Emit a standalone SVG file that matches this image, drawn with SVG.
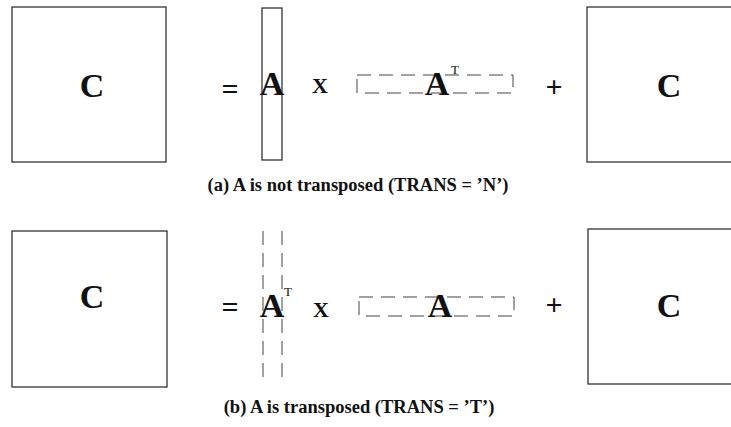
<svg xmlns="http://www.w3.org/2000/svg" width="731" height="427" viewBox="0 0 731 427">
<style>
.box{fill:none;stroke:#222;stroke-width:1.2}
.dash{fill:none;stroke:#444;stroke-width:1;stroke-dasharray:14 8}
.big{font-family:"Liberation Serif",serif;font-weight:bold;font-size:34px;fill:#111;text-anchor:middle}
.mid{font-family:"Liberation Serif",serif;font-weight:bold;font-size:22px;fill:#111;text-anchor:middle}
.op{font-family:"Liberation Serif",serif;font-weight:bold;font-size:30px;fill:#111;text-anchor:middle}
.sup{font-family:"Liberation Serif",serif;font-weight:normal;font-size:13px;fill:#111}
.cap{font-family:"Liberation Serif",serif;font-weight:bold;font-size:18.5px;fill:#111;text-anchor:middle}
</style>
<rect width="731" height="427" fill="#fff"/>
<g id="row-a">
  <g id="a-C-left"><rect class="box" x="12" y="7" width="154" height="155"/><text class="big" x="92" y="97">C</text></g>
  <g id="a-eq"><text class="op" x="230" y="99">=</text></g>
  <g id="a-A"><rect class="box" x="262" y="8" width="20" height="152"/><text class="big" x="272" y="95">A</text></g>
  <g id="a-x"><text class="mid" x="320" y="93">X</text></g>
  <g id="a-AT"><rect class="dash" x="357" y="75" width="156" height="18"/><text class="big" x="437" y="95">A</text><text class="sup" x="451" y="74">T</text></g>
  <g id="a-plus"><text class="op" x="554" y="97">+</text></g>
  <g id="a-C-right"><rect class="box" x="587" y="7" width="158" height="155"/><text class="big" x="669" y="97">C</text></g>
  <text class="cap" x="358" y="191">(a) A is not transposed (TRANS = ’N’)</text>
</g>
<g id="row-b">
  <g id="b-C-left"><rect class="box" x="12" y="231" width="155" height="156"/><text class="big" x="92" y="308">C</text></g>
  <g id="b-eq"><text class="op" x="230" y="317">=</text></g>
  <g id="b-AT"><line class="dash" x1="263" y1="231" x2="263" y2="385"/><line class="dash" x1="282" y1="231" x2="282" y2="385"/><text class="big" x="272" y="317">A</text><text class="sup" x="284" y="296">T</text></g>
  <g id="b-x"><text class="mid" x="321" y="317">X</text></g>
  <g id="b-A"><rect class="dash" x="359" y="297" width="155" height="19"/><text class="big" x="440" y="317">A</text></g>
  <g id="b-plus"><text class="op" x="554" y="315">+</text></g>
  <g id="b-C-right"><rect class="box" x="588" y="229" width="158" height="155"/><text class="big" x="669" y="317">C</text></g>
  <text class="cap" x="359" y="413">(b) A is transposed (TRANS = ’T’)</text>
</g>
</svg>
